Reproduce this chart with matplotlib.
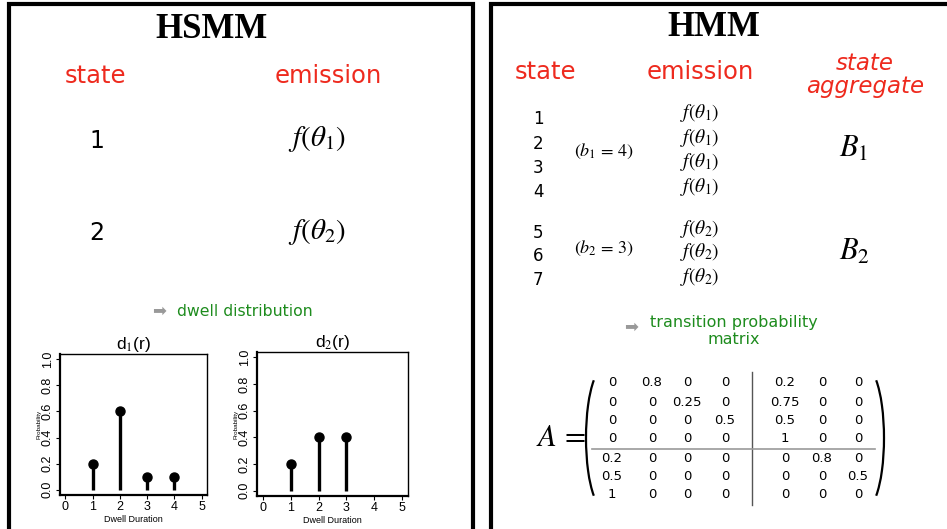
import matplotlib
matplotlib.use('Agg')
import matplotlib.pyplot as plt
from matplotlib.patches import Arc

plt.rcParams['mathtext.fontset'] = 'stix'
plt.rcParams['font.family'] = 'DejaVu Sans'

RED = '#ee2a1e'
GREEN = '#1e8c1e'

# dwell distributions
dwell_x1 = [1, 2, 3, 4]
dwell_p1 = [0.2, 0.6, 0.1, 0.1]
dwell_x2 = [1, 2, 3]
dwell_p2 = [0.2, 0.4, 0.4]
dur_ticks = [0, 1, 2, 3, 4, 5]
prob_ticks = [0.0, 0.2, 0.4, 0.6, 0.8, 1.0]

# HMM side
hmm_states = ['1', '2', '3', '4', '5', '6', '7']
hmm_emis = [r'$f(\theta_1)$'] * 4 + [r'$f(\theta_2)$'] * 3
A = [
    ['0', '0.8', '0', '0', '0.2', '0', '0'],
    ['0', '0', '0.25', '0', '0.75', '0', '0'],
    ['0', '0', '0', '0.5', '0.5', '0', '0'],
    ['0', '0', '0', '0', '1', '0', '0'],
    ['0.2', '0', '0', '0', '0', '0.8', '0'],
    ['0.5', '0', '0', '0', '0', '0', '0.5'],
    ['1', '0', '0', '0', '0', '0', '0'],
]

fig = plt.figure(figsize=(9.47, 5.29), dpi=100)
ax = fig.add_axes([0, 0, 1, 1])
ax.set_xlim(0, 947)
ax.set_ylim(529, 0)
ax.axis('off')

# frames
ax.plot([8.5, 8.5, 472.5, 472.5], [535, 3.5, 3.5, 535], color='k', lw=3, solid_joinstyle='miter')
ax.plot([490.5, 490.5, 960], [535, 3.5, 3.5], color='k', lw=3, solid_joinstyle='miter')

# ---- HSMM panel
ax.text(211, 29, 'HSMM', family='Liberation Serif', weight='bold', fontsize=25, ha='center', va='center')
ax.text(95, 76, 'state', color=RED, fontsize=17.5, ha='center', va='center')
ax.text(328, 76, 'emission', color=RED, fontsize=17.5, ha='center', va='center')
ax.text(97, 141, '1', fontsize=17, ha='center', va='center')
ax.text(97, 233, '2', fontsize=17, ha='center', va='center')
ax.text(317, 139, r'$f(\theta_1)$', fontsize=21, ha='center', va='center')
ax.text(317, 232, r'$f(\theta_2)$', fontsize=21, ha='center', va='center')
ax.text(159, 311, '➡', color='#999999', fontsize=12, ha='center', va='center')
ax.text(177, 311, 'dwell distribution', color=GREEN, fontsize=11.3, ha='left', va='center')

# stem plots
def dwell_plot(rect, xs, ps, title):
    a = fig.add_axes(rect)
    a.vlines(xs, 0, ps, color='k', lw=2.4)
    a.plot(xs, ps, 'o', color='k', ms=6.5)
    a.set_xlim(-0.2, 5.2)
    a.set_ylim(-0.04, 1.04)
    a.set_xticks(dur_ticks)
    a.set_yticks(prob_ticks)
    a.set_yticklabels([f'{t:.1f}' for t in prob_ticks], rotation=90, va='center')
    a.tick_params(labelsize=9, length=3, width=0.8, pad=1.5, direction='out')
    for lbl in a.get_xticklabels() + a.get_yticklabels():
        lbl.set_family('Liberation Sans')
    for s in a.spines.values():
        s.set_linewidth(1.0)
    a.spines['bottom'].set_linewidth(1.6)
    a.spines['left'].set_linewidth(1.6)
    a.set_xlabel('Dwell Duration', fontsize=6.5, family='Liberation Sans', labelpad=1)
    a.set_ylabel('Probability', fontsize=4.5, family='Liberation Sans', labelpad=0)
    a.set_title(title, fontsize=12.5, family='Liberation Sans', pad=1.5)
    return a

dwell_plot([60 / 947, 34 / 529, 147 / 947, 141 / 529], dwell_x1, dwell_p1, r'd$_1$(r)')
dwell_plot([257 / 947, 33 / 529, 151 / 947, 144 / 529], dwell_x2, dwell_p2, r'd$_2$(r)')

# ---- HMM panel
ax.text(714, 27, 'HMM', family='Liberation Serif', weight='bold', fontsize=25, ha='center', va='center')
ax.text(545, 72, 'state', color=RED, fontsize=17.5, ha='center', va='center')
ax.text(700, 72, 'emission', color=RED, fontsize=17.5, ha='center', va='center')
ax.text(865, 63, 'state', color=RED, fontsize=16.5, style='italic', ha='center', va='center')
ax.text(865, 87, 'aggregate', color=RED, fontsize=16.5, style='italic', ha='center', va='center')

state_y = [119, 144, 168, 192, 233, 256, 280]
emis_y = [113, 138, 162, 187, 229, 252, 277]
for s, ys in zip(hmm_states, state_y):
    ax.text(538, ys, s, fontsize=12, ha='center', va='center')
for e, ye in zip(hmm_emis, emis_y):
    ax.text(700, ye, e, fontsize=14, ha='center', va='center')
ax.text(604, 151, r'$(b_1\,=\,4)$', fontsize=13, ha='center', va='center')
ax.text(604, 248, r'$(b_2\,=\,3)$', fontsize=13, ha='center', va='center')
ax.text(854, 148, r'$B_1$', fontsize=22, ha='center', va='center')
ax.text(854, 251, r'$B_2$', fontsize=22, ha='center', va='center')

ax.text(631, 327, '➡', color='#999999', fontsize=12, ha='center', va='center')
ax.text(734, 323, 'transition probability', color=GREEN, fontsize=11.5, ha='center', va='center')
ax.text(734, 339, 'matrix', color=GREEN, fontsize=11.5, ha='center', va='center')

# matrix
ax.text(561, 438, r'$A\,=$', fontsize=22, ha='center', va='center')
col_x = [612, 652, 687, 725, 785, 822, 858]
row_y = [383, 402, 420, 438, 459, 477, 495]
for i, row in enumerate(A):
    for j, v in enumerate(row):
        ax.text(col_x[j], row_y[i], v, fontsize=9.5, ha='center', va='center')
ax.plot([752, 752], [372, 505], color='#555555', lw=1)
ax.plot([592, 875], [448.5, 448.5], color='#999999', lw=1.2)
ax.add_patch(Arc((604, 438), 36, 140, theta1=100, theta2=260, color='k', lw=1.6))
ax.add_patch(Arc((866, 438), 36, 140, theta1=-80, theta2=80, color='k', lw=1.6))

fig.savefig('out.png', dpi=100)
